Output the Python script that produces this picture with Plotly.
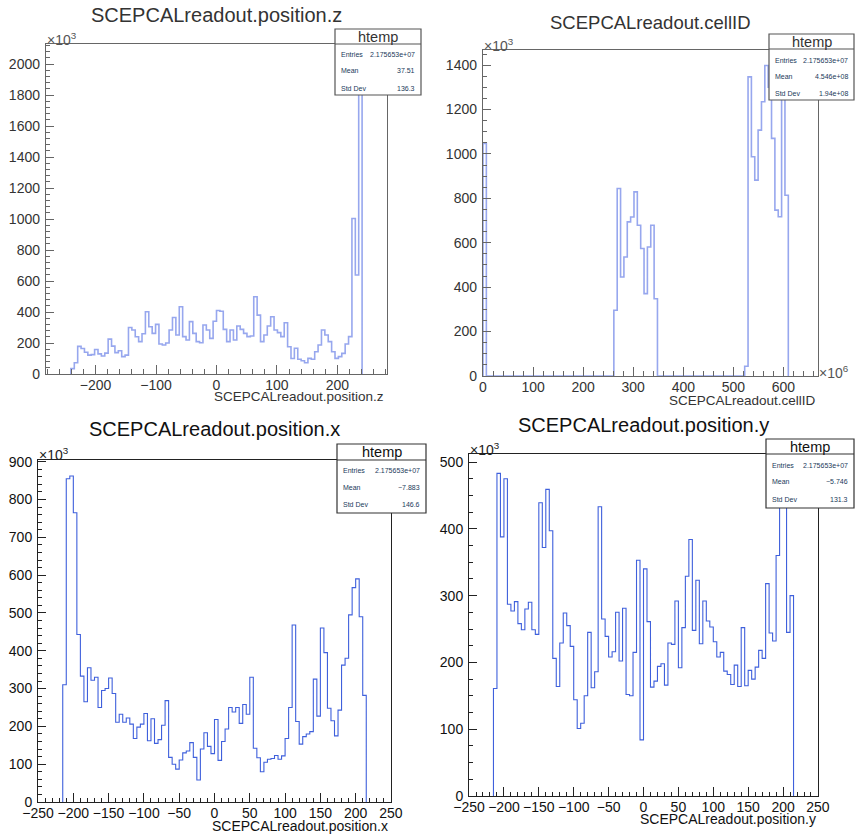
import numpy as np
import plotly.graph_objects as go

W, H = 858, 836
FONT = "Liberation Sans, Arial, Helvetica, sans-serif"

# ---------------- data (counts in units of 10^3 entries) ----------------
# SCEPCALreadout.position.z : 5.6-wide bins, first non-empty bin starts at -240.8
z_first_edge = -240.8
z_bin_width = 5.6
z_counts = [35, 73, 178, 165, 140, 122, 125, 158, 130, 116,
            135, 225, 180, 138, 150, 112, 122, 300, 284, 240,
            209, 260, 402, 305, 262, 320, 194, 187, 200, 284,
            365, 252, 434, 241, 219, 338, 262, 209, 202, 316,
            284, 230, 340, 410, 405, 288, 209, 284, 219, 310,
            288, 262, 241, 245, 499, 380, 209, 252, 310, 370,
            284, 267, 241, 331, 176, 100, 166, 95, 86, 73,
            101, 95, 144, 187, 284, 252, 209, 144, 101, 112,
            133, 194, 241, 1004, 639, 2030]

# SCEPCALreadout.cellID (x in units of 10^6): 6.7-wide bins, non-empty groups
cell_bin_width = 6.7
cell_group_first_bin = [0, 39, 78]
cell_group_counts = [
    [1047],
    [296, 844, 446, 536, 694, 716, 829, 679, 574, 371, 581, 679, 348],
    [44, 1347, 987, 882, 1107, 1235, 1398, 1300, 1070, 747, 717, 1350, 814],
]

# SCEPCALreadout.position.x : 5-wide bins starting at -215
x_first_edge = -215.0
x_bin_width = 5.0
x_counts = [310, 855, 862, 765, 443, 333, 265, 355, 322, 330,
            250, 295, 300, 328, 287, 211, 232, 211, 222, 206,
            168, 198, 206, 234, 162, 220, 155, 165, 203, 268,
            118, 100, 87, 111, 130, 135, 157, 118, 58, 140,
            183, 147, 128, 218, 110, 160, 193, 250, 238, 250,
            208, 258, 232, 330, 142, 117, 80, 105, 113, 115,
            123, 113, 122, 168, 250, 468, 213, 153, 173, 180,
            186, 325, 227, 460, 395, 248, 215, 175, 243, 362,
            380, 495, 567, 590, 490, 282]

# SCEPCALreadout.position.y : 5-wide bins starting at -215
y_first_edge = -215.0
y_bin_width = 5.0
y_counts = [161, 483, 388, 475, 287, 277, 291, 258, 249, 280,
            290, 249, 242, 439, 372, 459, 397, 206, 164, 229,
            274, 255, 224, 144, 101, 109, 150, 245, 162, 186,
            433, 265, 239, 208, 216, 275, 202, 281, 152, 150,
            215, 353, 84,
            340, 261, 163, 172, 194, 198, 166, 229, 227, 292,
            192, 252, 329, 384, 248, 323, 228, 292, 262, 253,
            231, 208, 215, 187, 182, 167, 196, 164, 252, 165,
            188, 175, 193, 218, 206, 318, 244, 232, 360, 488,
            462, 245, 300]

titles = ["SCEPCALreadout.position.z", "SCEPCALreadout.cellID",
          "SCEPCALreadout.position.x", "SCEPCALreadout.position.y"]
stat_labels = ["Entries", "Mean", "Std Dev"]
stat_values = [
    ["2.175653e+07", "37.51", "136.3"],
    ["2.175653e+07", "4.546e+08", "1.94e+08"],
    ["2.175653e+07", "\u22127.883", "146.6"],
    ["2.175653e+07", "\u22125.746", "131.3"],
]
stats_name = "htemp"


# ---------------- helpers ----------------
def px(x):
    return x / W


def py(y):
    return 1 - y / H


def step_xy(first_edge, width, counts):
    counts = np.asarray(counts, dtype=float)
    n = len(counts)
    edges = first_edge + width * np.arange(n + 1)
    xs = np.concatenate([[edges[0]], edges[:-1], [edges[-1], edges[-1]]])
    ys = np.concatenate([[0.0], counts, [counts[-1], 0.0]])
    return xs, ys


# full cellID histogram from the groups
n_cell = cell_group_first_bin[-1] + len(cell_group_counts[-1])
cell_full = np.zeros(n_cell)
for b0, vals in zip(cell_group_first_bin, cell_group_counts):
    cell_full[b0:b0 + len(vals)] = vals

hists = [
    step_xy(z_first_edge, z_bin_width, z_counts),
    step_xy(0.0, cell_bin_width, cell_full),
    step_xy(x_first_edge, x_bin_width, x_counts),
    step_xy(y_first_edge, y_bin_width, y_counts),
]

# panel geometry in pixels: frame (x0, y0, x1, y1)
frames = [(46, 44, 387, 374), (483, 50, 818, 376), (38, 460, 391, 802), (469, 454, 818, 796)]
xranges = [[-282, 282], [0, 669], [-250.05, 250.05], [-250.05, 250.05]]
yranges = [[0, 2130], [0, 1468], [0, 904.5], [0, 512]]
xdt = [(100, 20), (100, 20), (50, 10), (50, 10)]
ydt = [(200, 40), (200, 50), (100, 20), (100, 25)]
top = [True, True, False, False]

fig = go.Figure()
axis_names = [("x", "y"), ("x2", "y2"), ("x3", "y3"), ("x4", "y4")]
layout_axes = {}
for i, ((xs, ys), (x0, y0, x1, y1)) in enumerate(zip(hists, frames)):
    xa, ya = axis_names[i]
    lc = "#97a7ee" if top[i] else "#3f60dc"
    lw = 1.6 if top[i] else 1.1
    fig.add_trace(go.Scatter(x=xs, y=ys, mode="lines", line=dict(color=lc, width=lw, shape="hv"),
                             xaxis=xa, yaxis=ya, showlegend=False, hoverinfo="skip"))
    acol = "#666666" if top[i] else "#222222"
    alw = 1.4 if top[i] else 1.0
    tcol = "#333333" if top[i] else "#111111"
    common = dict(showgrid=False, zeroline=False, showline=True, linecolor=acol, linewidth=alw,
                  mirror=True, ticks="inside", tickcolor=acol, tickwidth=1, automargin=False,
                  tickfont=dict(family=FONT, size=14, color=tcol), tickmode="linear")
    xkey = "xaxis" if i == 0 else f"xaxis{i+1}"
    ykey = "yaxis" if i == 0 else f"yaxis{i+1}"
    layout_axes[xkey] = dict(common, domain=[px(x0), px(x1)], range=xranges[i], anchor=ya,
                             tick0=0, dtick=xdt[i][0], ticklen=9, ticklabelstandoff=-2,
                             minor=dict(dtick=xdt[i][1], ticks="inside", ticklen=4.5, tickcolor=acol))
    layout_axes[ykey] = dict(common, domain=[py(y1), py(y0)], range=yranges[i], anchor=xa,
                             tick0=0, dtick=ydt[i][0], ticklen=8, ticklabelstandoff=2,
                             minor=dict(dtick=ydt[i][1], ticks="inside", ticklen=4, tickcolor=acol))

annotations = []
shapes = []

# titles
title_pos = [(216, 15.5, 20), (650, 22.5, 18.5), (214, 429.5, 20), (643, 424.5, 20)]
for i, (tx, ty, fs) in enumerate(title_pos):
    annotations.append(dict(x=px(tx), y=py(ty), xref="paper", yref="paper", text=titles[i],
                            showarrow=False, xanchor="center", yanchor="middle",
                            font=dict(family=FONT, size=fs, color="#333333" if top[i] else "#111111")))

# axis titles (right aligned at frame end)
xt_pos = [(386, 396.5), (818, 400), (390, 825.5), (818, 819)]
for i, (tx, ty) in enumerate(xt_pos):
    annotations.append(dict(x=px(tx), y=py(ty), xref="paper", yref="paper", text=titles[i],
                            showarrow=False, xanchor="right", yanchor="middle",
                            font=dict(family=FONT, size=14 if not top[i] else 13.5,
                                      color="#333333" if top[i] else "#111111")))

# exponent labels
exp_pos = [(45, 39, "\u00d710<sup>3</sup>", 0), (482, 45, "\u00d710<sup>3</sup>", 1),
           (37, 454, "\u00d710<sup>3</sup>", 2), (468, 449, "\u00d710<sup>3</sup>", 3),
           (817, 372, "\u00d710<sup>6</sup>", 1)]
for ex, ey, txt, i in exp_pos:
    annotations.append(dict(x=px(ex), y=py(ey), xref="paper", yref="paper", text=txt,
                            showarrow=False, xanchor="left", yanchor="middle",
                            font=dict(family=FONT, size=14, color="#555555" if top[i] else "#222222")))

# stats boxes: (x0, y0, x1, y1, header_bottom, row ys)
stat_boxes = [(335, 29, 421, 95, 44, (55, 71, 88)),
              (769, 34, 854, 100, 49, (60, 76, 93)),
              (337, 444, 426, 513, 460, (470, 487, 504)),
              (766, 439, 854, 508, 454, (465, 482, 499))]
for i, (bx0, by0, bx1, by1, hb, rows) in enumerate(stat_boxes):
    bcol = "#555555" if top[i] else "#333333"
    shapes.append(dict(type="rect", xref="paper", yref="paper", x0=px(bx0), x1=px(bx1),
                       y0=py(by1), y1=py(by0), fillcolor="white", line=dict(color=bcol, width=1.2),
                       layer="above"))
    shapes.append(dict(type="line", xref="paper", yref="paper", x0=px(bx0), x1=px(bx1),
                       y0=py(hb), y1=py(hb), line=dict(color=bcol, width=1.2), layer="above"))
    annotations.append(dict(x=px((bx0 + bx1) / 2), y=py((by0 + hb) / 2 + 0.5), xref="paper", yref="paper",
                            text=stats_name, showarrow=False, xanchor="center", yanchor="middle",
                            font=dict(family=FONT, size=14.5, color="#333333" if top[i] else "#111111")))
    for lab, val, ry in zip(stat_labels, stat_values[i], rows):
        annotations.append(dict(x=px(bx0 + 4), y=py(ry), xref="paper", yref="paper", text=lab,
                                showarrow=False, xanchor="left", yanchor="middle",
                                font=dict(family=FONT, size=7, color="#1a3a5a")))
        annotations.append(dict(x=px(bx1 - 4), y=py(ry), xref="paper", yref="paper", text=val,
                                showarrow=False, xanchor="right", yanchor="middle",
                                font=dict(family=FONT, size=7, color="#1a3a5a")))

fig.update_layout(width=W, height=H, autosize=False, margin=dict(l=0, r=0, t=0, b=0, autoexpand=False),
                  paper_bgcolor="white", plot_bgcolor="white", showlegend=False,
                  annotations=annotations, shapes=shapes, **layout_axes)

fig.write_html("out.html", config={"displayModeBar": False},
               post_script="document.body.style.margin='0px';document.body.style.padding='0px';"
                           "document.body.style.overflow='hidden';")
